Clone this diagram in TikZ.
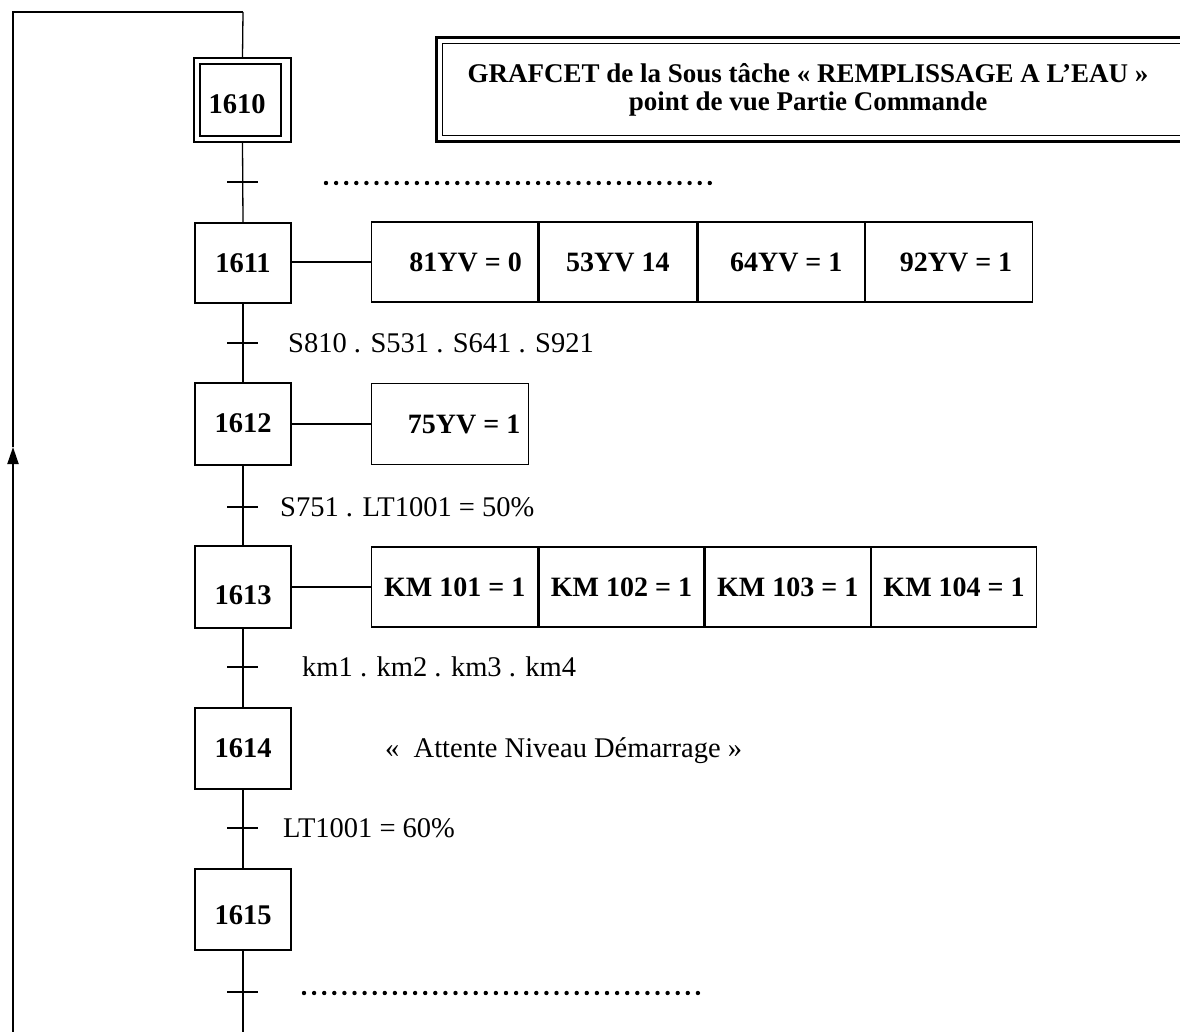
\documentclass[tikz,border=0pt]{standalone}
\usepackage{fontspec}
\setmainfont{Liberation Serif}
\usetikzlibrary{arrows.meta}
\begin{document}
\begin{tikzpicture}[x=1pt,y=-1pt,
  stepbox/.style={draw,line width=1.3pt,minimum width=96pt,minimum height=80pt,inner sep=0pt},
  steplabel/.style={inner sep=0pt,font=\fontsize{28.5}{30}\selectfont\bfseries},
  actbox/.style={draw,line width=1.3pt,anchor=west,minimum height=80pt,inner sep=0pt,font=\fontsize{28}{30}\selectfont\bfseries},
  trlabel/.style={anchor=base west,inner sep=0pt,font=\fontsize{28.5}{30}\selectfont},
  titletext/.style={inner sep=0pt,font=\fontsize{27}{30}\selectfont\bfseries},
  link/.style={line width=1.3pt},
  loopline/.style={line width=2pt},
  tick/.style={line width=1.5pt},
  dots/.style={line width=4.4pt,line cap=round,dash pattern=on 0pt off 10.1pt}
]
\useasboundingbox (0,0) rectangle (1180,1032);

% title frame
\draw[line width=3pt] (1180,38) -- (436,38) -- (436,142) -- (1180,142);
\draw[line width=1pt] (1180,44) -- (442,44) -- (442,136) -- (1180,136);
\node[titletext] (title1) at (808,73) {GRAFCET de la Sous tâche « REMPLISSAGE A L’EAU »};
\node[titletext] (title2) at (808,104) {point de vue Partie Commande};

% steps
\node[stepbox,minimum width=97pt,minimum height=84pt] (s1610) at (242.5,100) {};
\node[stepbox,line width=1.1pt,minimum width=81pt,minimum height=72pt] (s1610i) at (240.5,100) {};
\node[steplabel] (l1610) at (237,104) {1610};

\node[stepbox] (s1611) at (243,263) {};
\node[steplabel] (l1611) at (243,263) {1611};

\node[stepbox,minimum height=82pt] (s1612) at (243,424) {};
\node[steplabel] (l1612) at (243,423) {1612};

\node[stepbox,minimum height=82pt] (s1613) at (243,587) {};
\node[steplabel] (l1613) at (243,595) {1613};

\node[stepbox,minimum height=81pt] (s1614) at (243,748.5) {};
\node[steplabel] (l1614) at (243,748) {1614};

\node[stepbox,minimum height=81pt] (s1615) at (243,909.5) {};
\node[steplabel] (l1615) at (243,915) {1615};

% actions 1611
\node[actbox,minimum width=166pt] (a11) at (371,262) {\hspace*{22pt}81YV = 0};
\node[actbox,minimum width=158pt] (a12) at (a11.east) {53YV 14};
\node[actbox,minimum width=166pt] (a13) at (a12.east) {\hspace*{10pt}64YV = 1};
\node[actbox,minimum width=167pt] (a14) at (a13.east) {\hspace*{14pt}92YV = 1};
\draw[link] (s1611.east |- a11.west) -- (a11.west);

% action 1612
\node[actbox,minimum width=157pt,minimum height=81pt] (a21) at (371,424) {\hspace*{28pt}75YV = 1};
\draw[link] (s1612.east |- a21.west) -- (a21.west);

% actions 1613
\node[actbox,minimum width=166pt] (a31) at (371,587) {KM 101 = 1};
\node[actbox,minimum width=165pt] (a32) at (a31.east) {KM 102 = 1};
\node[actbox,minimum width=165pt] (a33) at (a32.east) {KM 103 = 1};
\node[actbox,minimum width=165pt] (a34) at (a33.east) {KM 104 = 1};
\draw[link] (s1613.east) -- (a31.west);

% comment 1614
\node[trlabel] (c1614) at (385,757) {«~~Attente Niveau Démarrage~»};

% vertical links
\draw[link] (s1610.south) -- (s1611.north);
\draw[link] (s1611.south) -- (s1612.north);
\draw[link] (s1612.south) -- (s1613.north);
\draw[link] (s1613.south) -- (s1614.north);
\draw[link] (s1614.south) -- (s1615.north);
\coordinate (mainbot) at (243,1032);
\draw[link] (s1615.south) -- (mainbot);

% transitions
\coordinate (t1) at (243,182);
\coordinate (t2) at (243,343);
\coordinate (t3) at (243,507);
\coordinate (t4) at (243,667);
\coordinate (t5) at (243,828);
\coordinate (t6) at (243,992);
\foreach \t in {t1,t2,t3,t4,t5,t6}
  \draw[tick] ([xshift=-16pt]\t) -- ([xshift=15pt]\t);

\node[trlabel] (r2) at (288,352) {S810 . S531 . S641 . S921};
\node[trlabel] (r3) at (280,516) {S751 . LT1001 = 50\%};
\node[trlabel] (r4) at (302,676) {km1 . km2 . km3 . km4};
\node[trlabel] (r5) at (283,837) {LT1001 = 60\%};

% dotted continuations
\coordinate (d1s) at (326,183);
\coordinate (d1e) at (712,183);
\coordinate (d2s) at (304,993);
\coordinate (d2e) at (700,993);
\draw[dots] (d1s) -- (d1e);
\draw[dots] (d2s) -- (d2e);

% loop back
\coordinate (lb) at (13,1032);
\coordinate (la) at (13,447);
\coordinate (ltl) at (13,12);
\coordinate (ltr) at (243,12);
\draw[loopline,-{Triangle[width=11pt,length=17pt]}] (lb) -- (la);
\draw[loopline] (la) -- (ltl) -- (ltr);
\draw[link] (ltr) -- (s1610.north);
\end{tikzpicture}
\end{document}
